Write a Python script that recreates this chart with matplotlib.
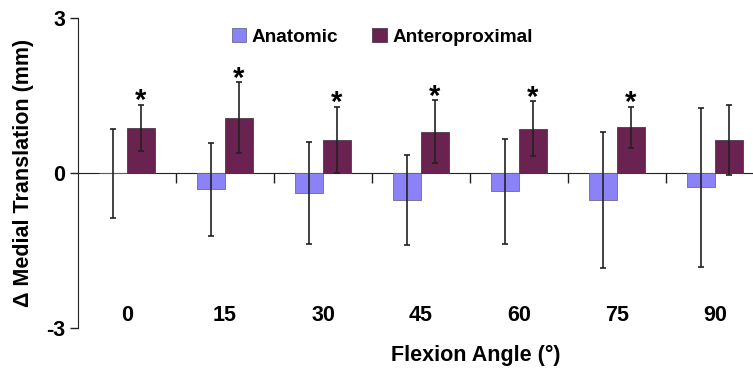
import matplotlib
matplotlib.use("Agg")
import matplotlib.pyplot as plt
import numpy as np

categories = ["0", "15", "30", "45", "60", "75", "90"]
anatomic = [0.0, -0.31, -0.38, -0.52, -0.35, -0.52, -0.27]
anatomic_err = [0.86, 0.90, 0.98, 0.87, 1.01, 1.31, 1.54]
antero = [0.88, 1.08, 0.65, 0.80, 0.86, 0.89, 0.64]
antero_err = [0.45, 0.68, 0.64, 0.61, 0.53, 0.40, 0.68]
significant = [True, True, True, True, True, True, False]

plt.rcParams['font.family'] = ['Liberation Sans', 'DejaVu Sans']
plt.rcParams['font.weight'] = 'bold'

W, H = 753, 372
fig = plt.figure(figsize=(W / 100, H / 100), dpi=100)
ax = fig.add_axes([78 / W, 1 - 328.3 / H, (764 - 78) / W, (328.3 - 18.3) / H])

blue = '#8B82F8'
maroon = '#6A2350'
x = np.arange(len(categories))
bw = 0.286

ax.bar(x - bw / 2, anatomic, bw, color=blue, edgecolor='#6a6a8a', linewidth=0.6,
       label='Anatomic', zorder=2)
ax.bar(x + bw / 2, antero, bw, color=maroon, edgecolor='#4a3a44', linewidth=0.6,
       label='Anteroproximal', zorder=2)
ax.errorbar(x - bw / 2, anatomic, yerr=anatomic_err, fmt='none', ecolor='#222222',
            elinewidth=1.2, capsize=2.5, capthick=1.2, zorder=3)
ax.errorbar(x + bw / 2, antero, yerr=antero_err, fmt='none', ecolor='#222222',
            elinewidth=1.2, capsize=2.5, capthick=1.2, zorder=3)

for xi, v, e, s in zip(x, antero, antero_err, significant):
    if s:
        ax.annotate('*', (xi + bw / 2, v + e), xytext=(0, -3), textcoords='offset points',
                    ha='center', va='baseline', fontsize=21, fontweight='bold')

for xi, c in zip(x, categories):
    ax.text(xi, -2.76, c, ha='center', va='center', fontsize=15.5, fontweight='bold')

ax.set_xlim(-0.5, len(categories) - 0.5)
ax.set_ylim(-3, 3)
ax.set_yticks([-3, 0, 3])
ax.set_yticklabels(['-3', '0', '3'], fontsize=15.5, fontweight='bold')
ax.set_xticks(x[:-1] + 0.5)
ax.set_xticklabels([])
ax.tick_params(axis='x', direction='out', length=7, width=1, color='#222222')
ax.tick_params(axis='y', direction='out', length=6, width=1, color='#222222', pad=3)

ax.spines['top'].set_visible(False)
ax.spines['right'].set_visible(False)
ax.spines['bottom'].set_position(('data', 0))
ax.spines['bottom'].set_color('#222222')
ax.spines['left'].set_color('#222222')
ax.spines['bottom'].set_zorder(1)

ax.set_ylabel('Δ Medial Translation (mm)', fontsize=15.5, fontweight='bold', labelpad=9)
fig.text(476 / W, 1 - 355 / H, 'Flexion Angle (°)', ha='center', va='center',
         fontsize=15.5, fontweight='bold')

ax.legend(loc='center left', bbox_to_anchor=(222 / W, 1 - 37 / H),
          bbox_transform=fig.transFigure, ncol=2, frameon=False, borderpad=0,
          handlelength=0.75, handleheight=0.75, handletextpad=0.3,
          columnspacing=1.8, prop={'size': 13.7, 'weight': 'bold'})

fig.savefig('out.png', dpi=100)
